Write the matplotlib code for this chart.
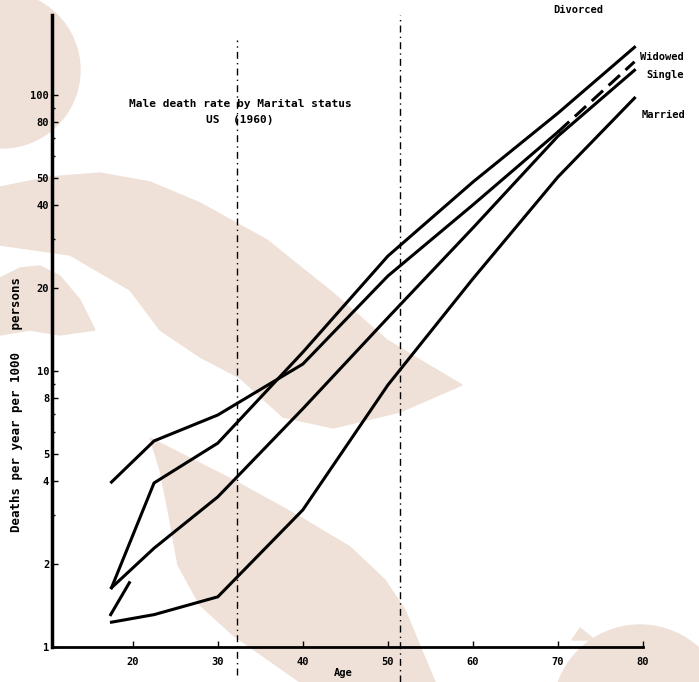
import numpy as np
import matplotlib.pyplot as plt
from matplotlib.patches import Polygon, Ellipse

# death rates per 1000 men, by age group midpoint
age = [17.5, 22.5, 30, 40, 50, 60, 70, 79]
married = [1.23, 1.31, 1.52, 3.14, 8.9, 21.6, 50.5, 97.5]
single = [1.64, 2.28, 3.5, 7.3, 15.6, 33.0, 71, 123]
widowed = [3.96, 5.58, 6.93, 10.6, 22.1, 40, 73.5, 132]
divorced = [1.64, 3.93, 5.48, 11.7, 26.1, 48.4, 86, 149]
# short loose stroke near the start of the single curve
stub_age = [17.4, 19.6]
stub_rate = [1.31, 1.71]

ref_ages = [32.2, 51.4]
x_ticks = [20, 30, 40, 50, 60, 70, 80]
y_ticks = [1, 2, 4, 5, 8, 10, 20, 40, 50, 80, 100]
y_ticklabels = ['1', '2', '4', '5', '8', '10', '20', '40', '50', '80', '100']

W, H = 699, 682
fig = plt.figure(figsize=(W / 100, H / 100), dpi=100)
ax = fig.add_axes([52 / W, 1 - 647 / H, (643 - 52) / W, (647 - 15) / H])
ax.set_facecolor('none')

# background shapes (pixel coords, y from top)
bg = '#efe1d8'
def px(pts):
    return [(x / W, 1 - y / H) for x, y in pts]

fig.add_artist(Ellipse((2 / W, 1 - 70 / H), 156 / W, 156 / H, color=bg,
                       transform=fig.transFigure, zorder=-5))
fig.add_artist(Ellipse((640 / W, 1 - 712 / H), 174 / W, 174 / H, color=bg,
                       transform=fig.transFigure, zorder=-5))
swoosh = [(0, 187), (50, 177), (100, 173), (150, 182), (200, 203), (267, 240),
          (333, 293), (387, 340), (420, 360), (462, 385),
          (400, 412), (333, 428), (283, 417), (240, 378), (200, 357),
          (160, 330), (130, 290), (70, 255), (0, 245)]
fig.add_artist(Polygon(px(swoosh), closed=True, color=bg,
                       transform=fig.transFigure, zorder=-5))
lower = [(150, 438), (233, 480), (300, 517), (350, 547), (385, 580), (405, 610),
         (427, 663), (435, 682), (300, 682), (233, 635), (200, 605),
         (178, 565), (168, 510), (160, 470)]
fig.add_artist(Polygon(px(lower), closed=True, color=bg,
                       transform=fig.transFigure, zorder=-5))
hump = [(0, 278), (20, 268), (40, 266), (60, 276), (80, 300), (95, 330),
        (60, 335), (30, 330), (0, 335)]
fig.add_artist(Polygon(px(hump), closed=True, color=bg,
                       transform=fig.transFigure, zorder=-5))
notch = [(572, 640), (580, 628), (595, 640)]
fig.add_artist(Polygon(px(notch), closed=True, color=bg,
                       transform=fig.transFigure, zorder=-5))

lw = 2.2
ax.plot(age, married, 'k-', lw=lw)
ax.plot(age, single, 'k-', lw=lw)
ax.plot(age[:7], widowed[:7], 'k-', lw=lw)
ax.plot(age[6:], widowed[6:], 'k-', lw=lw, dashes=(5, 2.5))
ax.plot(age, divorced, 'k-', lw=lw)
ax.plot(stub_age, stub_rate, 'k-', lw=lw)

ax.axvline(ref_ages[0], ymin=-0.044, ymax=0.96, color='k', lw=1,
           ls=(0, (5, 3, 1, 3)), clip_on=False)
ax.axvline(ref_ages[1], ymin=-0.055, ymax=1.0, color='k', lw=1,
           ls=(0, (5, 3, 1, 3)), clip_on=False)

ax.set_yscale('log')
ax.set_xlim(10.5, 80)
ax.set_ylim(1, 195)

fnt = dict(family='DejaVu Sans Mono', weight='bold', size=7.5)
ax.set_xticks(x_ticks)
ax.set_xticklabels([str(t) for t in x_ticks], **fnt)
ax.set_yticks(y_ticks)
ax.set_yticklabels(y_ticklabels, **fnt)
ax.tick_params(axis='x', direction='in', length=4, width=1, pad=7)
ax.tick_params(axis='y', which='major', direction='in', length=4, width=1, pad=2)
ax.tick_params(axis='y', which='minor', direction='in', length=2, width=1)

for s in ['top', 'right']:
    ax.spines[s].set_visible(False)
ax.spines['left'].set_linewidth(2.5)
ax.spines['bottom'].set_linewidth(2)

tfnt = dict(fnt, size=8)
ax.text(32.6, 93, 'Male death rate by Marital status', ha='center', va='center', **tfnt)
ax.text(32.6, 81, 'US  (1960)', ha='center', va='center', **tfnt)

ax.text(69.4, 203, 'Divorced', ha='left', va='center', clip_on=False, **fnt)
ax.text(79.6, 137, 'Widowed', ha='left', va='center', clip_on=False, **fnt)
ax.text(80.4, 118, 'Single', ha='left', va='center', clip_on=False, **fnt)
ax.text(79.8, 85, 'Married', ha='left', va='center', clip_on=False, **fnt)

fig.text(17 / W, 1 - 405 / H, 'Deaths per year per 1000   persons', rotation=90,
         ha='center', va='center', **dict(fnt, size=9))
fig.text(343 / W, 1 - 673 / H, 'Age', ha='center', va='center', **fnt)

fig.savefig('out.png', dpi=100)
